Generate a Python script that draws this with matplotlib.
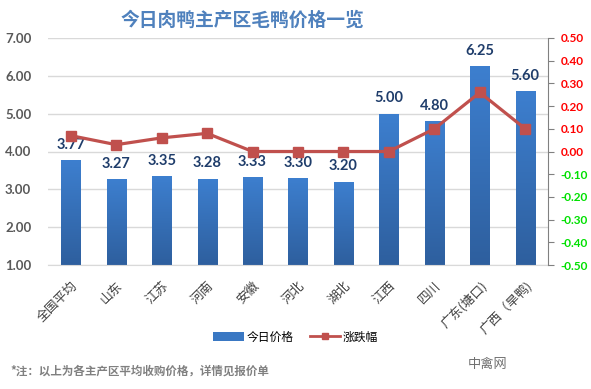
import matplotlib
matplotlib.use("Agg")
import matplotlib.pyplot as plt
import numpy as np
from matplotlib.colors import LinearSegmentedColormap
from matplotlib.patches import Patch
from matplotlib.lines import Line2D

plt.rcParams['font.family'] = ['Noto Sans CJK SC', 'DejaVu Sans']
NUM_FONT = ['Lato', 'DejaVu Sans']

regions = ["全国平均", "山东", "江苏", "河南", "安徽", "河北", "湖北", "江西", "四川", "广东(塘口)", "广西（旱鸭)"]
prices = [3.77, 3.27, 3.35, 3.28, 3.33, 3.30, 3.20, 5.00, 4.80, 6.25, 5.60]
changes = [0.07, 0.03, 0.06, 0.08, 0.00, 0.00, 0.00, 0.00, 0.10, 0.26, 0.10]
left_ticks = [1, 2, 3, 4, 5, 6, 7]
right_ticks = [-0.5, -0.4, -0.3, -0.2, -0.1, 0.0, 0.1, 0.2, 0.3, 0.4, 0.5]

fig = plt.figure(figsize=(5.91, 3.89), dpi=100)
ax = fig.add_axes([48/591, 1 - 265/389, 500/591, 227/389])
x = np.arange(len(regions))

bars = ax.bar(x, prices, width=0.42, color="#3a78c3", zorder=2)
# vertical gradient on bars
grad = np.linspace(0, 1, 256).reshape(-1, 1)
cmap = LinearSegmentedColormap.from_list("g", ["#2e5f9e", "#3d7fcf"])
for b in bars:
    im = ax.imshow(grad, extent=[b.get_x(), b.get_x() + b.get_width(), 1, b.get_height()],
                   aspect="auto", cmap=cmap, origin="lower", zorder=2)
    im.set_clip_path(b)

for xi, p in zip(x, prices):
    ax.text(xi, p + 0.22, f"{p:.2f}", ha="center", va="bottom", fontsize=10.5,
            fontweight="bold", color="#1f3d6b", zorder=5, family=NUM_FONT)

ax.set_xlim(-0.5, len(regions) - 0.5)
ax.set_ylim(1, 7)
ax.set_yticks(left_ticks)
ax.set_yticklabels([f"{t:.2f}" for t in left_ticks], fontsize=9.5, color="#595959",
                   fontweight="bold", family=NUM_FONT)
ax.grid(axis="y", color="#d9d9d9", linewidth=1, zorder=0)
ax.set_axisbelow(True)
for s in ["top", "right", "left"]:
    ax.spines[s].set_visible(False)
ax.spines["bottom"].set_color("#d9d9d9")
ax.tick_params(axis="y", length=0, pad=12)
ax.tick_params(axis="x", length=0, pad=10)
ax.set_xticks(x)
ax.set_xticklabels(regions, rotation=45, ha="right", rotation_mode="anchor",
                   fontsize=9.2, color="#404040")

ax2 = ax.twinx()
ax2.plot(x, changes, color="#c0504d", linewidth=2.3, marker="s", markersize=7.5,
         markerfacecolor="#c0504d", markeredgecolor="#c0504d", zorder=4)
ax2.set_ylim(-0.5, 0.5)
ax2.set_yticks(right_ticks)
ax2.set_yticklabels([f"{t:.2f}" for t in right_ticks], fontsize=8.5, fontweight="bold",
                    family=NUM_FONT)
for lbl, t in zip(ax2.get_yticklabels(), right_ticks):
    lbl.set_color("#ff0000" if t >= 0 else "#00e000")
for s in ["top", "left", "bottom"]:
    ax2.spines[s].set_visible(False)
ax2.spines["right"].set_color("#808080")
ax2.tick_params(axis="y", direction="out", length=4, color="#808080", pad=5)

fig.text(242/591, 1 - 20/389, "今日肉鸭主产区毛鸭价格一览", ha="center", va="center",
         fontsize=13.5, fontweight="bold", color="#4f81bd")

handles = [Patch(facecolor="#3a78c3", label="今日价格"),
           Line2D([0], [0], color="#c0504d", lw=2, marker="s", markersize=5, label="涨跌幅")]
fig.legend(handles=handles, loc="center", bbox_to_anchor=(0.5, 1 - 337/389), ncol=2,
           frameon=False, fontsize=8.5, handlelength=2.6, columnspacing=1.4, handletextpad=0.2)

fig.text(10/591, 1 - 371/389, "*注：以上为各主产区平均收购价格，详情见报价单", ha="left", va="center",
         fontsize=8.3, color="#808080", fontweight="bold")
fig.text(507/591, 1 - 364/389, "中禽网", ha="right", va="center", fontsize=9.5,
         color="#707070")

fig.savefig("out.png", dpi=100)
